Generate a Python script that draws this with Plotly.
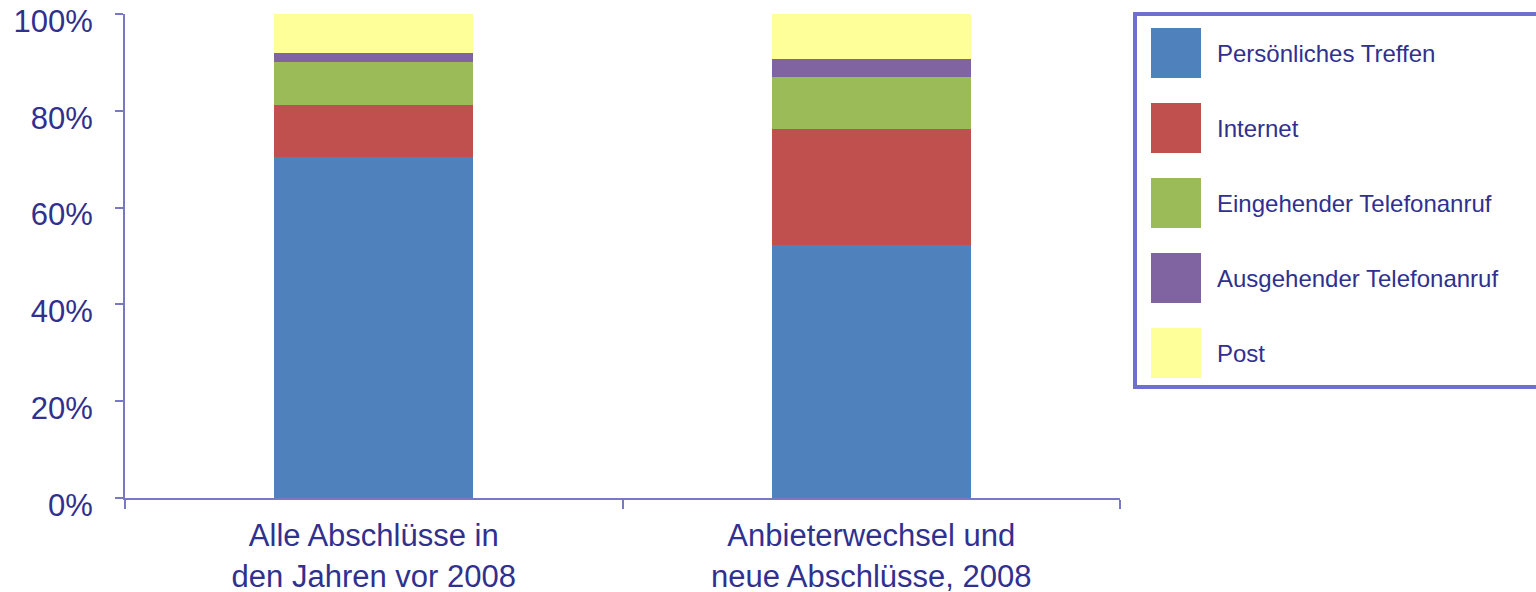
import plotly.graph_objects as go

categories = ["Alle Abschlüsse in<br>den Jahren vor 2008", "Anbieterwechsel und<br>neue Abschlüsse, 2008"]
series_names = ["Persönliches Treffen", "Internet", "Eingehender Telefonanruf",
                "Ausgehender Telefonanruf", "Post"]
persoenlich = [70.5, 52.3]
internet = [10.8, 23.9]
eingehend = [8.8, 10.8]
ausgehend = [1.9, 3.8]
post = [8.0, 9.2]
series_values = [persoenlich, internet, eingehend, ausgehend, post]
colors = ["#4F81BD", "#C0504D", "#9BBB59", "#8064A2", "#FFFF99"]
y_ticks = [0, 20, 40, 60, 80, 100]
y_tick_labels = ["0%", "20%", "40%", "60%", "80%", "100%"]

W, H = 1536, 592
L, R, T, B = 125, 1120, 14, 498
TEXT = "#30308f"
AXIS = "#7878c4"
FONT = "Liberation Sans, Arial, sans-serif"

fig = go.Figure()
for name, vals, col in zip(series_names, series_values, colors):
    fig.add_trace(go.Bar(x=categories, y=vals, name=name, marker_color=col,
                         marker_line_width=0, width=0.4, showlegend=False))

def px_x(x):
    return (x - L) / (R - L)

def px_y(y):
    return (B - y) / (B - T)

shapes = []
annotations = []
# legend box
shapes.append(dict(type="rect", xref="paper", yref="paper",
                   x0=px_x(1135), x1=px_x(1560), y0=px_y(387), y1=px_y(14),
                   line=dict(color="#6f6fd0", width=4), fillcolor="white", layer="above"))
for i, (name, col) in enumerate(zip(series_names, colors)):
    top = 28 + 75 * i
    shapes.append(dict(type="rect", xref="paper", yref="paper",
                       x0=px_x(1151), x1=px_x(1201), y0=px_y(top + 50), y1=px_y(top),
                       line=dict(width=0), fillcolor=col, layer="above"))
    annotations.append(dict(xref="paper", yref="paper", x=px_x(1215), y=px_y(top + 25),
                            text=name, showarrow=False, xanchor="left", yanchor="middle",
                            font=dict(size=24, color=TEXT, family=FONT)))

fig.update_layout(
    width=W, height=H,
    margin=dict(l=L, r=W - R, t=T, b=H - B, pad=0, autoexpand=False),
    paper_bgcolor="white", plot_bgcolor="white",
    barmode="stack", bargap=0.6,
    shapes=shapes, annotations=annotations,
    font=dict(family=FONT, color=TEXT, size=30),
)
fig.update_xaxes(range=[-0.5, 1.5], showgrid=False, showline=True, linecolor=AXIS, linewidth=2,
                 automargin=False,
                 ticks="outside", tickson="boundaries", ticklen=9, tickwidth=2, tickcolor=AXIS,
                 tickfont=dict(size=31, color=TEXT, family=FONT), ticklabelstandoff=9)
fig.update_yaxes(range=[0, 100], tickmode="array", tickvals=y_ticks, ticktext=y_tick_labels,
                 showgrid=False, automargin=False, ticklabeloverflow="allow",
                 showline=True, linecolor=AXIS, linewidth=2, zeroline=False,
                 ticks="outside", ticklen=8, tickwidth=2, tickcolor=AXIS, ticklabelshift=7,
                 tickfont=dict(size=31, color=TEXT, family=FONT), ticklabelstandoff=16)

fig.write_html("out.html")
